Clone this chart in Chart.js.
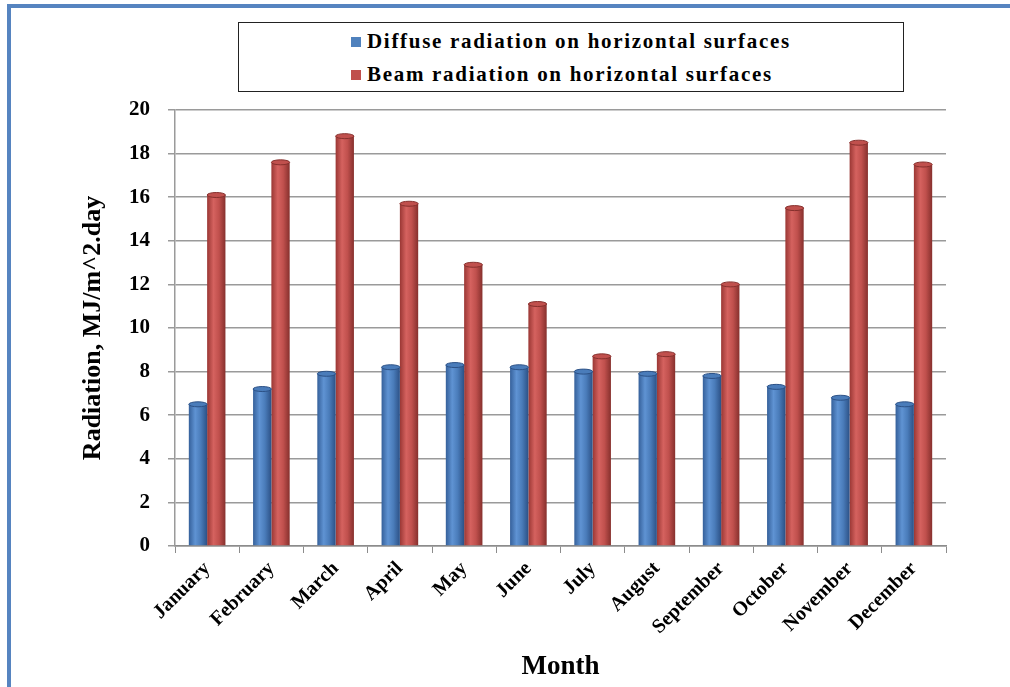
<!DOCTYPE html>
<html>
<head>
<meta charset="utf-8">
<title>Radiation on horizontal surfaces</title>
<script src="https://cdn.jsdelivr.net/npm/chart.js@4.4.0/dist/chart.umd.min.js"></script>
<style>
    body { margin: 0; background: #fff; }
    #frame { position: relative; width: 1010px; height: 687px; overflow: hidden; background: #fff; }
    #frame:before {
        content: ''; position: absolute; left: 7px; top: 4px; width: 1200px; height: 900px;
        border-left: 4px solid #5684c0; border-top: 4px solid #5684c0;
    }
    #radChart { position: absolute; left: 0; top: 0; }
    #legend {
        position: absolute; left: 238px; top: 22px; width: 666px; height: 70px;
        box-sizing: border-box; border: 1.5px solid #222; background: #fff;
        font-family: "Liberation Serif", "DejaVu Serif", serif; font-weight: bold; font-size: 21px;
        letter-spacing: 1.7px; color: #000;
    }
    #legend .item { position: absolute; left: 112px; height: 24px; line-height: 24px; white-space: nowrap; }
    #legend .box { display: inline-block; width: 10px; height: 10px; margin-right: 6px; vertical-align: 1px; }
</style>
</head>
<body>
<div id="frame">
    <canvas id="radChart" width="1010" height="687"></canvas>
    <div id="legend"></div>
</div>
<script>
var months = ['January', 'February', 'March', 'April', 'May', 'June', 'July',
    'August', 'September', 'October', 'November', 'December'];
var diffuse = [6.5, 7.2, 7.9, 8.2, 8.3, 8.2, 8.0, 7.9, 7.8, 7.3, 6.8, 6.5];
var beam = [16.1, 17.6, 18.8, 15.7, 12.9, 11.1, 8.7, 8.8, 12.0, 15.5, 18.5, 17.5];
var yTicks = [0, 2, 4, 6, 8, 10, 12, 14, 16, 18, 20];

var serif = "'Liberation Serif', 'Times New Roman', serif";

// shades for the round (cylinder) look of the bars
var shades = {
    '#4f81bd': ['#35609a', '#5f93d3', '#4a7cba', '#2c5186'],
    '#c0504d': ['#9a3734', '#d5625f', '#c0504d', '#86302d']
};

var cylinder = {
    id: 'cylinder',
    beforeDatasetDraw: function (chart, args) {
        var c = chart.ctx;
        var s = shades[args.meta._dataset.backgroundColor];
        args.meta.data.forEach(function (el) {
            var g = c.createLinearGradient(el.x - el.width / 2, 0, el.x + el.width / 2, 0);
            g.addColorStop(0, s[0]);
            g.addColorStop(0.35, s[1]);
            g.addColorStop(0.65, s[2]);
            g.addColorStop(1, s[3]);
            el.options = Object.assign({}, el.options, {backgroundColor: g});
        });
    },
    afterDatasetDraw: function (chart, args) {
        var c = chart.ctx;
        var s = shades[args.meta._dataset.backgroundColor];
        args.meta.data.forEach(function (el) {
            c.save();
            c.beginPath();
            c.ellipse(el.x, el.y, el.width / 2, 2.5, 0, 0, Math.PI * 2);
            c.fillStyle = s[2];
            c.fill();
            c.strokeStyle = s[3];
            c.lineWidth = 1;
            c.stroke();
            c.restore();
        });
    }
};

var ctx = document.getElementById('radChart').getContext('2d');
var chart = new Chart(ctx, {
    type: 'bar',
    data: {
        labels: months,
        datasets: [{
            label: 'Diffuse radiation on horizontal surfaces',
            data: diffuse,
            backgroundColor: '#4f81bd',
            categoryPercentage: 0.57,
            barPercentage: 1.0
        }, {
            label: 'Beam radiation on horizontal surfaces',
            data: beam,
            backgroundColor: '#c0504d',
            categoryPercentage: 0.57,
            barPercentage: 1.0
        }]
    },
    options: {
        responsive: false,
        animation: false,
        layout: {padding: {left: 78, top: 110, right: 64, bottom: 0}},
        plugins: {
            legend: {display: false},
            tooltip: {enabled: false}
        },
        scales: {
            x: {
                grid: {display: true, drawOnChartArea: false, color: '#8c8c8c', tickLength: 7, offset: true},
                border: {color: '#8c8c8c', width: 1.5},
                ticks: {
                    color: '#000', autoSkip: false, minRotation: 45, maxRotation: 45, padding: 4,
                    font: {family: serif, weight: 'bold', size: 20}
                },
                title: {
                    display: true, text: 'Month', color: '#000',
                    font: {family: serif, weight: 'bold', size: 27},
                    padding: {top: 0, bottom: 4}
                },
                afterFit: function (scale) { scale.height = 141; }
            },
            y: {
                min: 0,
                max: 20,
                afterBuildTicks: function (scale) {
                    scale.ticks = yTicks.map(function (v) { return {value: v}; });
                },
                grid: {color: '#9a9a9a', lineWidth: 1.5, tickLength: 7},
                border: {color: '#9a9a9a', width: 1.5},
                ticks: {
                    color: '#000', padding: 18,
                    font: {family: serif, weight: 'bold', size: 21}
                },
                title: {
                    display: true, text: 'Radiation, MJ/m^2.day', color: '#000',
                    font: {family: serif, weight: 'bold', size: 26},
                    padding: 0
                },
                afterFit: function (scale) { scale.width = 97; }
            }
        }
    },
    plugins: [cylinder]
});

// legend box, built from the chart's own datasets
var legendEl = document.getElementById('legend');
chart.data.datasets.forEach(function (ds, i) {
    var row = document.createElement('div');
    row.className = 'item';
    row.style.top = (6 + i * 33) + 'px';
    var box = document.createElement('span');
    box.className = 'box';
    box.style.background = ds.backgroundColor;
    row.appendChild(box);
    row.appendChild(document.createTextNode(ds.label));
    legendEl.appendChild(row);
});
</script>
</body>
</html>
